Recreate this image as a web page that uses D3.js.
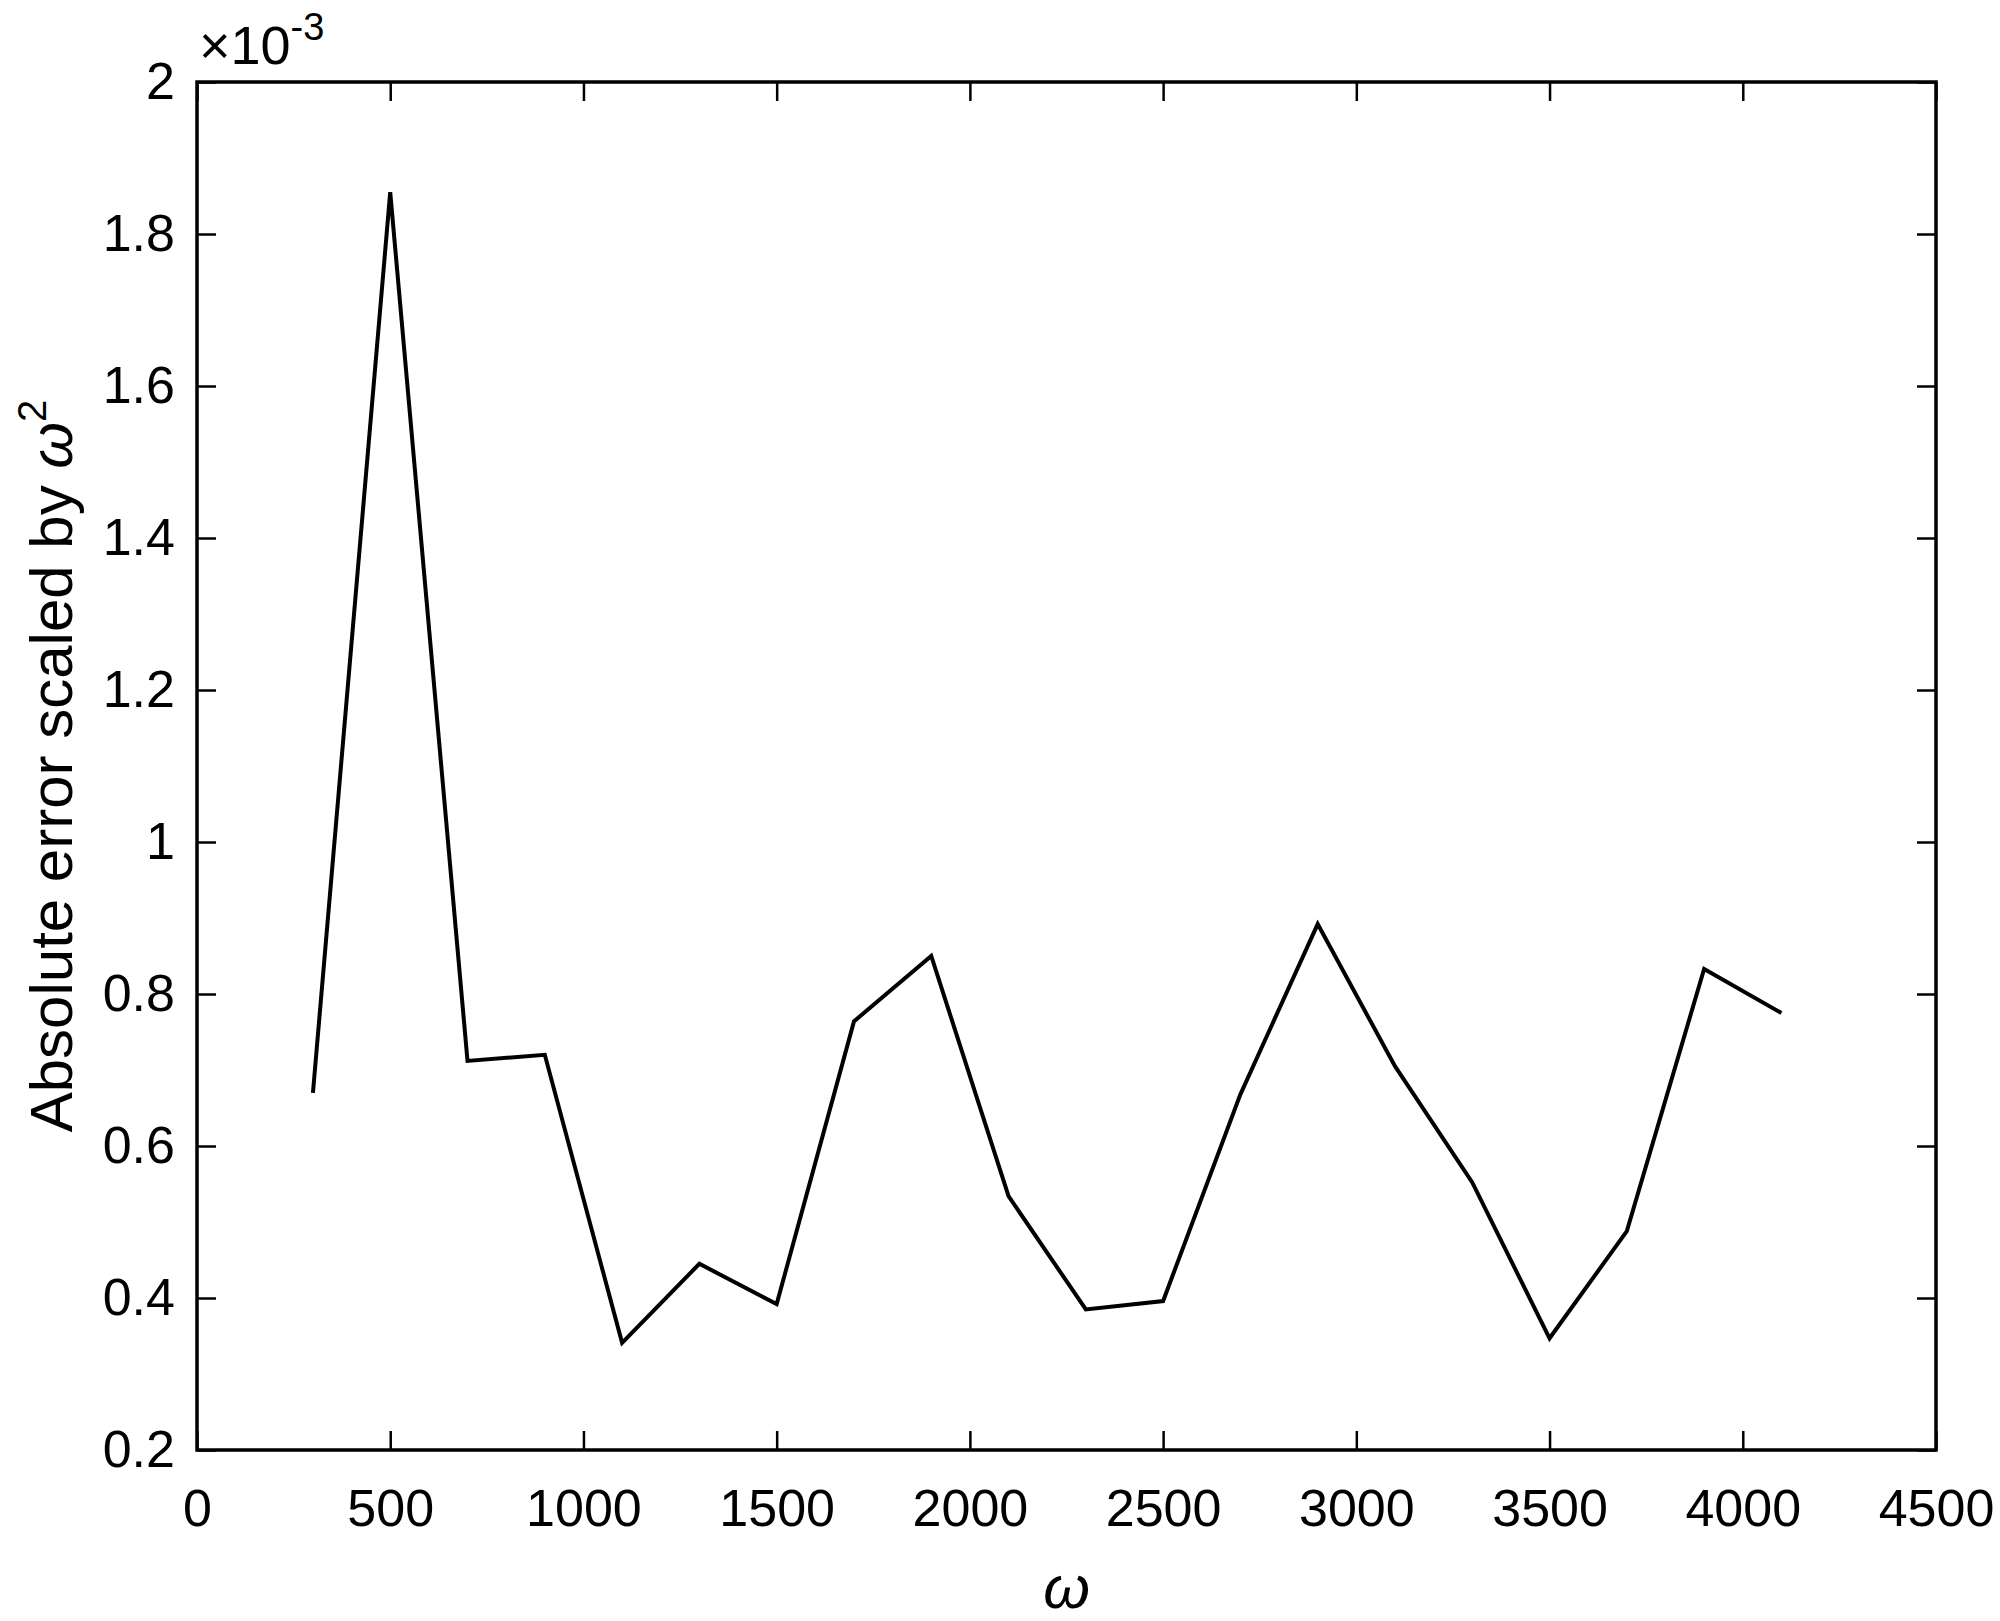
<!DOCTYPE html>
<meta charset="utf-8">
<style>
body {
  margin: 0;
  background: #fff;
}
svg {
  font-family: "Liberation Sans", Arial, Helvetica, sans-serif;
}
.tick text {
  font-size: 52px;
  fill: #000;
}
.tick line {
  stroke: #000;
  stroke-width: 2.5px;
}
</style>
<body>
<script src="https://d3js.org/d3.v7.min.js"></script>
<script>
// omega values and absolute error (x 10^-3)
var omega = [300, 500, 700, 900, 1100, 1300, 1500, 1700, 1900, 2100,
             2300, 2500, 2700, 2900, 3100, 3300, 3500, 3700, 3900, 4100];
var err = [0.670, 1.855, 0.712, 0.720, 0.341, 0.445, 0.392, 0.764, 0.850, 0.534,
           0.385, 0.396, 0.668, 0.892, 0.705, 0.552, 0.347, 0.488, 0.833, 0.775];

var xTicks = [0, 500, 1000, 1500, 2000, 2500, 3000, 3500, 4000, 4500];
var yTicks = [0.2, 0.4, 0.6, 0.8, 1, 1.2, 1.4, 1.6, 1.8, 2];

// note: "top" is taken by window.top, so plot edges get their own names
var width = 2000,
    height = 1621,
    plotL = 197,
    plotR = 1936,
    plotT = 82,
    plotB = 1450;

var svg = d3.select("body")
            .append("svg")
            .attr("width", width)
            .attr("height", height);

var x = d3.scaleLinear().domain([0, 4500]).range([plotL, plotR]);
var y = d3.scaleLinear().domain([0.2, 2]).range([plotB, plotT]);

var fmtY = function(d) { return String(+d.toFixed(1)); };
var fmtX = function(d) { return String(d); };

// axes, ticks pointing inward like matlab
svg.append("g")
   .attr("transform", "translate(0," + plotB + ")")
   .call(d3.axisBottom(x).tickValues(xTicks).tickFormat(fmtX).tickSizeInner(-19).tickSizeOuter(0).tickPadding(39));

svg.append("g")
   .attr("transform", "translate(" + plotL + ",0)")
   .call(d3.axisLeft(y).tickValues(yTicks).tickFormat(fmtY).tickSizeInner(-19).tickSizeOuter(0).tickPadding(22));

svg.append("g")
   .attr("transform", "translate(0," + plotT + ")")
   .call(d3.axisTop(x).tickValues(xTicks).tickFormat("").tickSizeInner(-19).tickSizeOuter(0));

svg.append("g")
   .attr("transform", "translate(" + plotR + ",0)")
   .call(d3.axisRight(y).tickValues(yTicks).tickFormat("").tickSizeInner(-19).tickSizeOuter(0));

svg.selectAll(".domain").remove();

// box
svg.append("rect")
   .attr("x", plotL)
   .attr("y", plotT)
   .attr("width", plotR - plotL)
   .attr("height", plotB - plotT)
   .attr("fill", "none")
   .attr("stroke", "#000")
   .attr("stroke-width", 3.5);

// the error curve
var line = d3.line()
             .x(function(d, i) { return x(omega[i]); })
             .y(function(d) { return y(d); });

svg.append("path")
   .datum(err)
   .attr("d", line)
   .attr("fill", "none")
   .attr("stroke", "#000")
   .attr("stroke-width", 4)
   .attr("stroke-linejoin", "miter");

// exponent label
var expo = svg.append("text")
              .attr("x", plotL + 2)
              .attr("y", 64)
              .attr("font-size", 54);
expo.append("tspan").text("\u00d710");
expo.append("tspan").attr("font-size", 38).attr("dy", -24).text("-3");

// x label
svg.append("text")
   .attr("x", (plotL + plotR) / 2)
   .attr("y", 1608)
   .attr("text-anchor", "middle")
   .attr("font-size", 60)
   .attr("font-style", "italic")
   .text("\u03c9");

// y label
var ylab = svg.append("text")
              .attr("transform", "translate(72," + (plotT + plotB) / 2 + ") rotate(-90)")
              .attr("text-anchor", "middle")
              .attr("font-size", 60);
ylab.append("tspan").text("Absolute error scaled by ");
ylab.append("tspan").attr("font-style", "italic").text("\u03c9");
ylab.append("tspan").attr("font-size", 40).attr("dy", -26).text("2");
</script>
</body>
